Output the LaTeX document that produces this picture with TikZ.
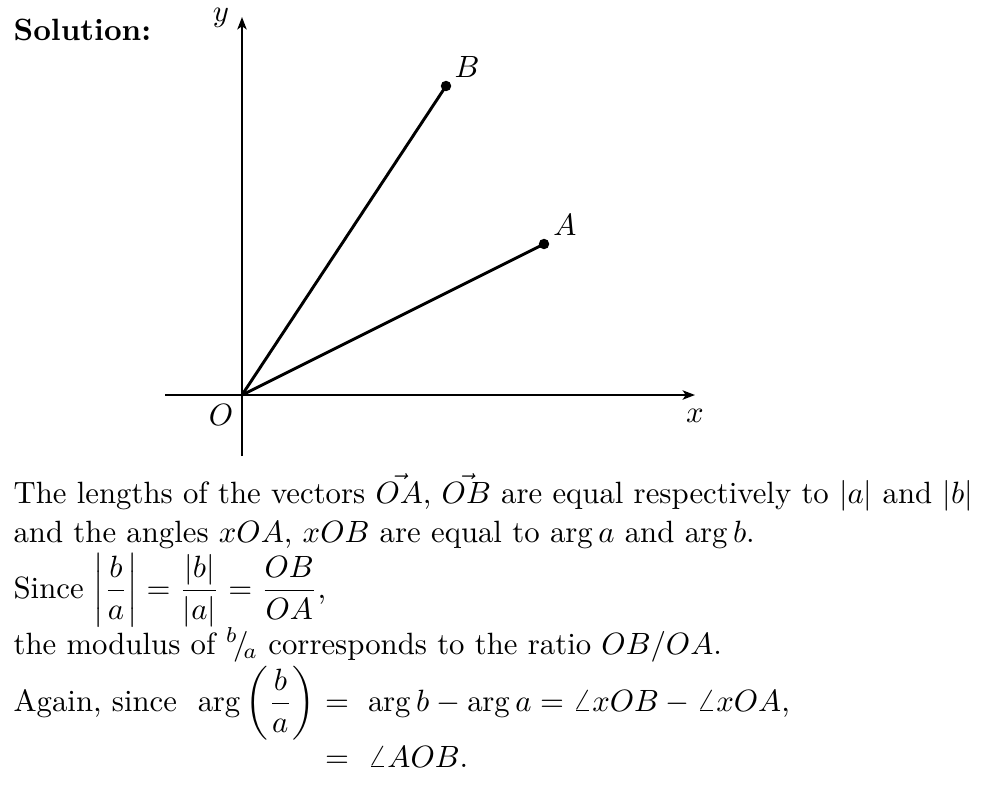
\documentclass[tikz,border=0pt]{standalone}
\usepackage{amsmath}
\usepackage{tikz}
\usetikzlibrary{arrows.meta}
\tikzset{
  axis/.style={-{Stealth[length=4pt, width=3pt, inset=1pt]}, line width=0.95pt},
  ray/.style={line width=0.95pt},
  dot/.style={circle, fill=black, inner sep=0pt, minimum size=3.4pt},
  lbl/.style={inner sep=0pt},
  txt/.style={anchor=base west, inner sep=0pt},
}
\newcommand{\argpart}{Again, since\ \ $\arg\left(\dfrac{b}{a}\right)\ $}
\begin{document}
\begin{tikzpicture}[x=0.325pt, y=-0.325pt]
\useasboundingbox (0,0) rectangle (1003,798);
\node[txt, font=\bfseries] (sol) at (13,40) {Solution:};
% axes
\coordinate (O) at (242,395);
\coordinate (xl) at (165,395);
\coordinate (xr) at (695,395);
\coordinate (yb) at (242,456);
\coordinate (yt) at (242,17);
\draw[axis] (xl) -- (xr);
\draw[axis] (yb) -- (yt);
\node[lbl] (xlab) at (695,416) {$x$};
\node[lbl] (ylab) at (221,18) {$y$};
\node[lbl] (olab) at (221,415) {$O$};
% the two points
\node[dot] (A) at (544,244) {};
\node[dot] (B) at (446,86) {};
\draw[ray] (O) -- (A.center);
\draw[ray] (O) -- (B.center);
\node[lbl] (alab) at (565,225) {$A$};
\node[lbl] (blab) at (467,67) {$B$};
% text below
\node[txt] (l1) at (13,503) {The lengths of the vectors $\vec{OA}$, $\vec{OB}$ are equal respectively to $|a|$ and $|b|$};
\node[txt] (l2) at (13,542) {and the angles $xOA$, $xOB$ are equal to $\arg a$ and $\arg b$.};
\node[txt] (l3) at (13,598) {Since $\left|\dfrac{b}{a}\right| = \dfrac{|b|}{|a|} = \dfrac{OB}{OA}$,};
\node[txt] (l4) at (13,654) {the modulus of ${}^{b}\!/\!_{a}$ corresponds to the ratio $OB/OA$.};
\node[txt] (l5) at (13,711) {\argpart$=\ \arg b - \arg a = \angle xOB - \angle xOA$,};
\node[txt] (l6) at (13,767) {\phantom{\argpart}$=\ \angle AOB$.};
\end{tikzpicture}
\end{document}
